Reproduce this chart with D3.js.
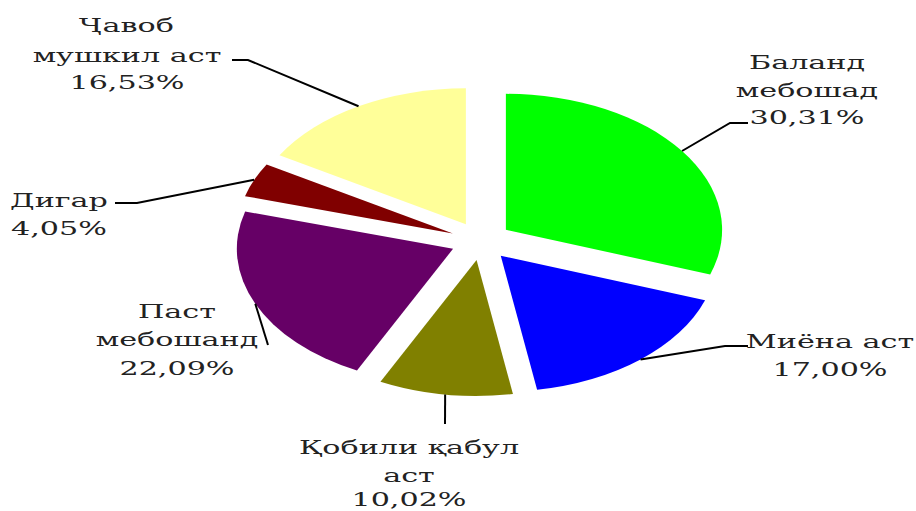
<!DOCTYPE html>
<html>
<head>
<meta charset="utf-8">
<script src="https://cdn.jsdelivr.net/npm/d3@7"></script>
<style>
  html, body { margin: 0; padding: 0; background: #fff; }
  svg { display: block; }
</style>
</head>
<body>
<div id="chart"></div>
<script>
// data
const categories = ["Баланд мебошад", "Миёна аст", "Қобили қабул аст", "Паст мебошанд", "Дигар", "Ҷавоб мушкил аст"];
const values = [30.31, 17.00, 10.02, 22.09, 4.05, 16.53];
const labelLines = [
    ["Баланд", "мебошад"],
    ["Миёна аст"],
    ["Қобили қабул", "аст"],
    ["Паст", "мебошанд"],
    ["Дигар"],
    ["Ҷавоб", "мушкил аст"]
];
const colors = ["#00ff00", "#0000ff", "#808000", "#660066", "#800000", "#ffff99"];

const width = 916, height = 511;
const SX = 1.59;            // the whole picture is stretched horizontally
const cx = 481 / SX, cy = 241;
const R = 136, explode = 19.2;

// label layout: elbow points and text anchor, in page pixels
const labelLayout = [
    { path: [[730, 123], [748, 123]], tx: 807, ty: [62, 90, 117] },
    { path: [[725, 346], [748, 346]], tx: 830, ty: [341, 369] },
    { path: [[445, 424]], tx: 409, ty: [447, 475, 499] },
    { path: [[268, 345]], tx: 177, ty: [311, 339, 368] },
    { path: [[137, 203], [115, 203]], tx: 59, ty: [200, 228] },
    { path: [[248, 60], [232, 60]], tx: 127, ty: [25, 55, 82] }
];

const fmt = v => d3.format(".2f")(v).replace(".", ",") + "%";

const svg = d3.select("#chart").append("svg")
    .attr("width", width)
    .attr("height", height);

const root = svg.append("g").attr("transform", `scale(${SX},1)`);

const pie = d3.pie().sort(null).value(d => d)(values);
const arc = d3.arc().innerRadius(0).outerRadius(R);

const slices = root.append("g").attr("transform", `translate(${cx},${cy})`);

slices.selectAll("path")
    .data(pie)
    .join("path")
    .attr("transform", d => {
        const a = (d.startAngle + d.endAngle) / 2;
        return `translate(${Math.sin(a) * explode},${-Math.cos(a) * explode})`;
    })
    .attr("d", arc)
    .attr("fill", (d, i) => colors[i]);

// leader lines
const line = d3.line();
root.append("g").selectAll("path")
    .data(pie)
    .join("path")
    .attr("d", (d, i) => {
        const a = (d.startAngle + d.endAngle) / 2;
        const r = R + explode;
        const start = [cx + Math.sin(a) * r, cy - Math.cos(a) * r];
        const pts = [start].concat(labelLayout[i].path.map(p => [p[0] / SX, p[1]]));
        return line(pts);
    })
    .attr("fill", "none")
    .attr("stroke", "#000")
    .attr("stroke-width", 2)
    .attr("vector-effect", "non-scaling-stroke");

// labels
const labels = root.append("g")
    .attr("font-family", "DejaVu Serif")
    .attr("font-size", 19)
    .attr("fill", "#222");

categories.forEach((c, i) => {
    const lay = labelLayout[i];
    const lines = labelLines[i].concat([fmt(values[i])]);
    lines.forEach((t, j) => {
        labels.append("text")
            .attr("x", lay.tx / SX)
            .attr("y", lay.ty[j])
            .attr("dy", "0.35em")
            .attr("text-anchor", "middle")
            .text(t);
    });
});
</script>
</body>
</html>
